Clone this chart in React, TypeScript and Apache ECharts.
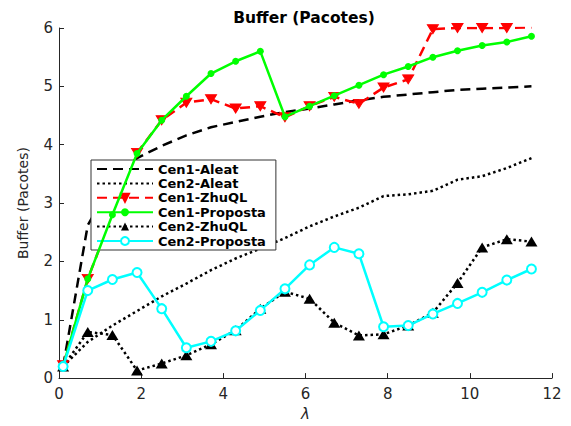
import React, { useEffect, useRef } from "react";
import * as echarts from "echarts";

const lambda = [0.1, 0.7, 1.3, 1.9, 2.5, 3.1, 3.7, 4.3, 4.9, 5.5, 6.1, 6.7, 7.3, 7.9, 8.5, 9.1, 9.7, 10.3, 10.9, 11.5];
const cen1Aleat = [0.2, 2.62, 3.35, 3.77, 3.98, 4.16, 4.3, 4.39, 4.48, 4.56, 4.62, 4.69, 4.76, 4.82, 4.86, 4.9, 4.94, 4.96, 4.98, 5.0];
const cen2Aleat = [0.2, 0.62, 0.9, 1.15, 1.4, 1.62, 1.85, 2.05, 2.22, 2.4, 2.6, 2.77, 2.92, 3.12, 3.15, 3.21, 3.4, 3.46, 3.6, 3.77];
const cen1ZhuQL = [0.22, 1.7, 2.8, 3.86, 4.42, 4.72, 4.78, 4.62, 4.66, 4.47, 4.66, 4.82, 4.7, 4.98, 5.12, 5.98, 6.0, 6.0, 6.0, 6.01];
const cen1Proposta = [0.2, 1.7, 2.8, 3.85, 4.42, 4.83, 5.22, 5.43, 5.6, 4.48, 4.66, 4.84, 5.02, 5.2, 5.34, 5.5, 5.61, 5.7, 5.76, 5.86];
const cen2ZhuQL = [0.2, 0.79, 0.74, 0.13, 0.25, 0.39, 0.58, 0.82, 1.19, 1.48, 1.36, 0.95, 0.73, 0.75, 0.9, 1.12, 1.63, 2.24, 2.38, 2.34];
const cen2Proposta = [0.2, 1.5, 1.69, 1.81, 1.19, 0.52, 0.63, 0.81, 1.16, 1.53, 1.94, 2.24, 2.13, 0.88, 0.9, 1.1, 1.28, 1.47, 1.68, 1.87];

const seriesNames = ["Cen1-Aleat", "Cen2-Aleat", "Cen1-ZhuQL", "Cen1-Proposta", "Cen2-ZhuQL", "Cen2-Proposta"];
const xTicks = { min: 0, max: 12, interval: 2 };
const yTicks = { min: 0, max: 6, interval: 1 };

const pairs = (ys: number[]) => lambda.map((x, i) => [x, ys[i]]);

export default function App() {
  const ref = useRef<HTMLDivElement>(null);
  useEffect(() => {
    if (!ref.current) return;
    const chart = echarts.init(ref.current, undefined, { renderer: "svg" });
    const font = "DejaVu Sans";
    const axisColor = "#262626";
    const noMarker = new Set([seriesNames[0], seriesNames[1]]);
    chart.setOption({
      animation: false,
      backgroundColor: "#ffffff",
      textStyle: { fontFamily: font },
      grid: { left: 59, right: 19, top: 28, bottom: 42, containLabel: false },
      graphic: [
        {
          type: "text",
          x: 304,
          y: 18,
          style: {
            text: "Buffer (Pacotes)",
            font: `bold 15.5px "${font}"`,
            fill: "#000",
            align: "center",
            verticalAlign: "middle",
            textAlign: "center",
            textVerticalAlign: "middle",
          },
        },
      ],
      legend: {
        orient: "vertical",
        left: 91,
        top: 160,
        data: seriesNames.map((n) =>
          noMarker.has(n) ? { name: n, itemStyle: { opacity: 0 } } : { name: n }
        ),
        itemWidth: 56,
        itemHeight: 10,
        itemGap: 0.4,
        padding: [2, 10, 2, 5],
        backgroundColor: "#ffffff",
        borderColor: "#333333",
        borderWidth: 1,
        borderRadius: 0,
        textStyle: { fontFamily: font, fontWeight: "bold", fontSize: 13, lineHeight: 14, color: "#000" },
      },
      xAxis: {
        type: "value",
        min: xTicks.min,
        max: xTicks.max,
        interval: xTicks.interval,
        name: "λ",
        nameLocation: "middle",
        nameGap: 22,
        nameTextStyle: { fontFamily: font, fontSize: 15, fontStyle: "italic", color: axisColor },
        axisLine: { show: true, onZero: false, lineStyle: { color: axisColor, width: 1 } },
        axisTick: { show: true, inside: true, length: 5, lineStyle: { color: axisColor } },
        axisLabel: { fontFamily: font, fontSize: 15, color: axisColor, margin: 8 },
        splitLine: { show: false },
      },
      yAxis: {
        type: "value",
        min: yTicks.min,
        max: yTicks.max,
        interval: yTicks.interval,
        name: "Buffer (Pacotes)",
        nameLocation: "middle",
        nameRotate: 90,
        nameGap: 29,
        nameTextStyle: { fontFamily: font, fontSize: 14, color: axisColor },
        axisLine: { show: true, lineStyle: { color: axisColor, width: 1 } },
        axisTick: { show: true, inside: true, length: 5, lineStyle: { color: axisColor } },
        axisLabel: { fontFamily: font, fontSize: 15, color: axisColor, margin: 6 },
        splitLine: { show: false },
      },
      series: [
        {
          name: seriesNames[0],
          type: "line",
          data: pairs(cen1Aleat),
          symbol: "none",
          lineStyle: { color: "#000", width: 2.5, type: [10, 6] },
          itemStyle: { color: "#000" },
          z: 2,
        },
        {
          name: seriesNames[1],
          type: "line",
          data: pairs(cen2Aleat),
          symbol: "none",
          lineStyle: { color: "#000", width: 2.5, type: [2.5, 3] },
          itemStyle: { color: "#000" },
          z: 2,
        },
        {
          name: seriesNames[2],
          type: "line",
          data: pairs(cen1ZhuQL),
          symbol: "triangle",
          symbolRotate: 180,
          symbolSize: [11, 9],
          lineStyle: { color: "#ff0000", width: 2.5, type: [10, 6] },
          itemStyle: { color: "#ff0000", borderColor: "#ff0000", borderWidth: 1 },
          z: 3,
        },
        {
          name: seriesNames[3],
          type: "line",
          data: pairs(cen1Proposta),
          symbol: "circle",
          symbolSize: 7,
          lineStyle: { color: "#00ff00", width: 2.5 },
          itemStyle: { color: "#00ff00" },
          z: 4,
        },
        {
          name: seriesNames[4],
          type: "line",
          data: pairs(cen2ZhuQL),
          symbol: "triangle",
          symbolSize: [12, 10],
          lineStyle: { color: "#000", width: 2.5, type: [2.5, 3] },
          itemStyle: { color: "#000" },
          z: 3,
        },
        {
          name: seriesNames[5],
          type: "line",
          data: pairs(cen2Proposta),
          symbol: "emptyCircle",
          symbolSize: 9,
          lineStyle: { color: "#00ffff", width: 2.5 },
          itemStyle: { color: "#00ffff", borderColor: "#00ffff", borderWidth: 2 },
          z: 5,
        },
      ],
    });
    return () => chart.dispose();
  }, []);
  return <div ref={ref} style={{ width: 571, height: 426, position: "absolute", left: 0, top: 0 }} />;
}
